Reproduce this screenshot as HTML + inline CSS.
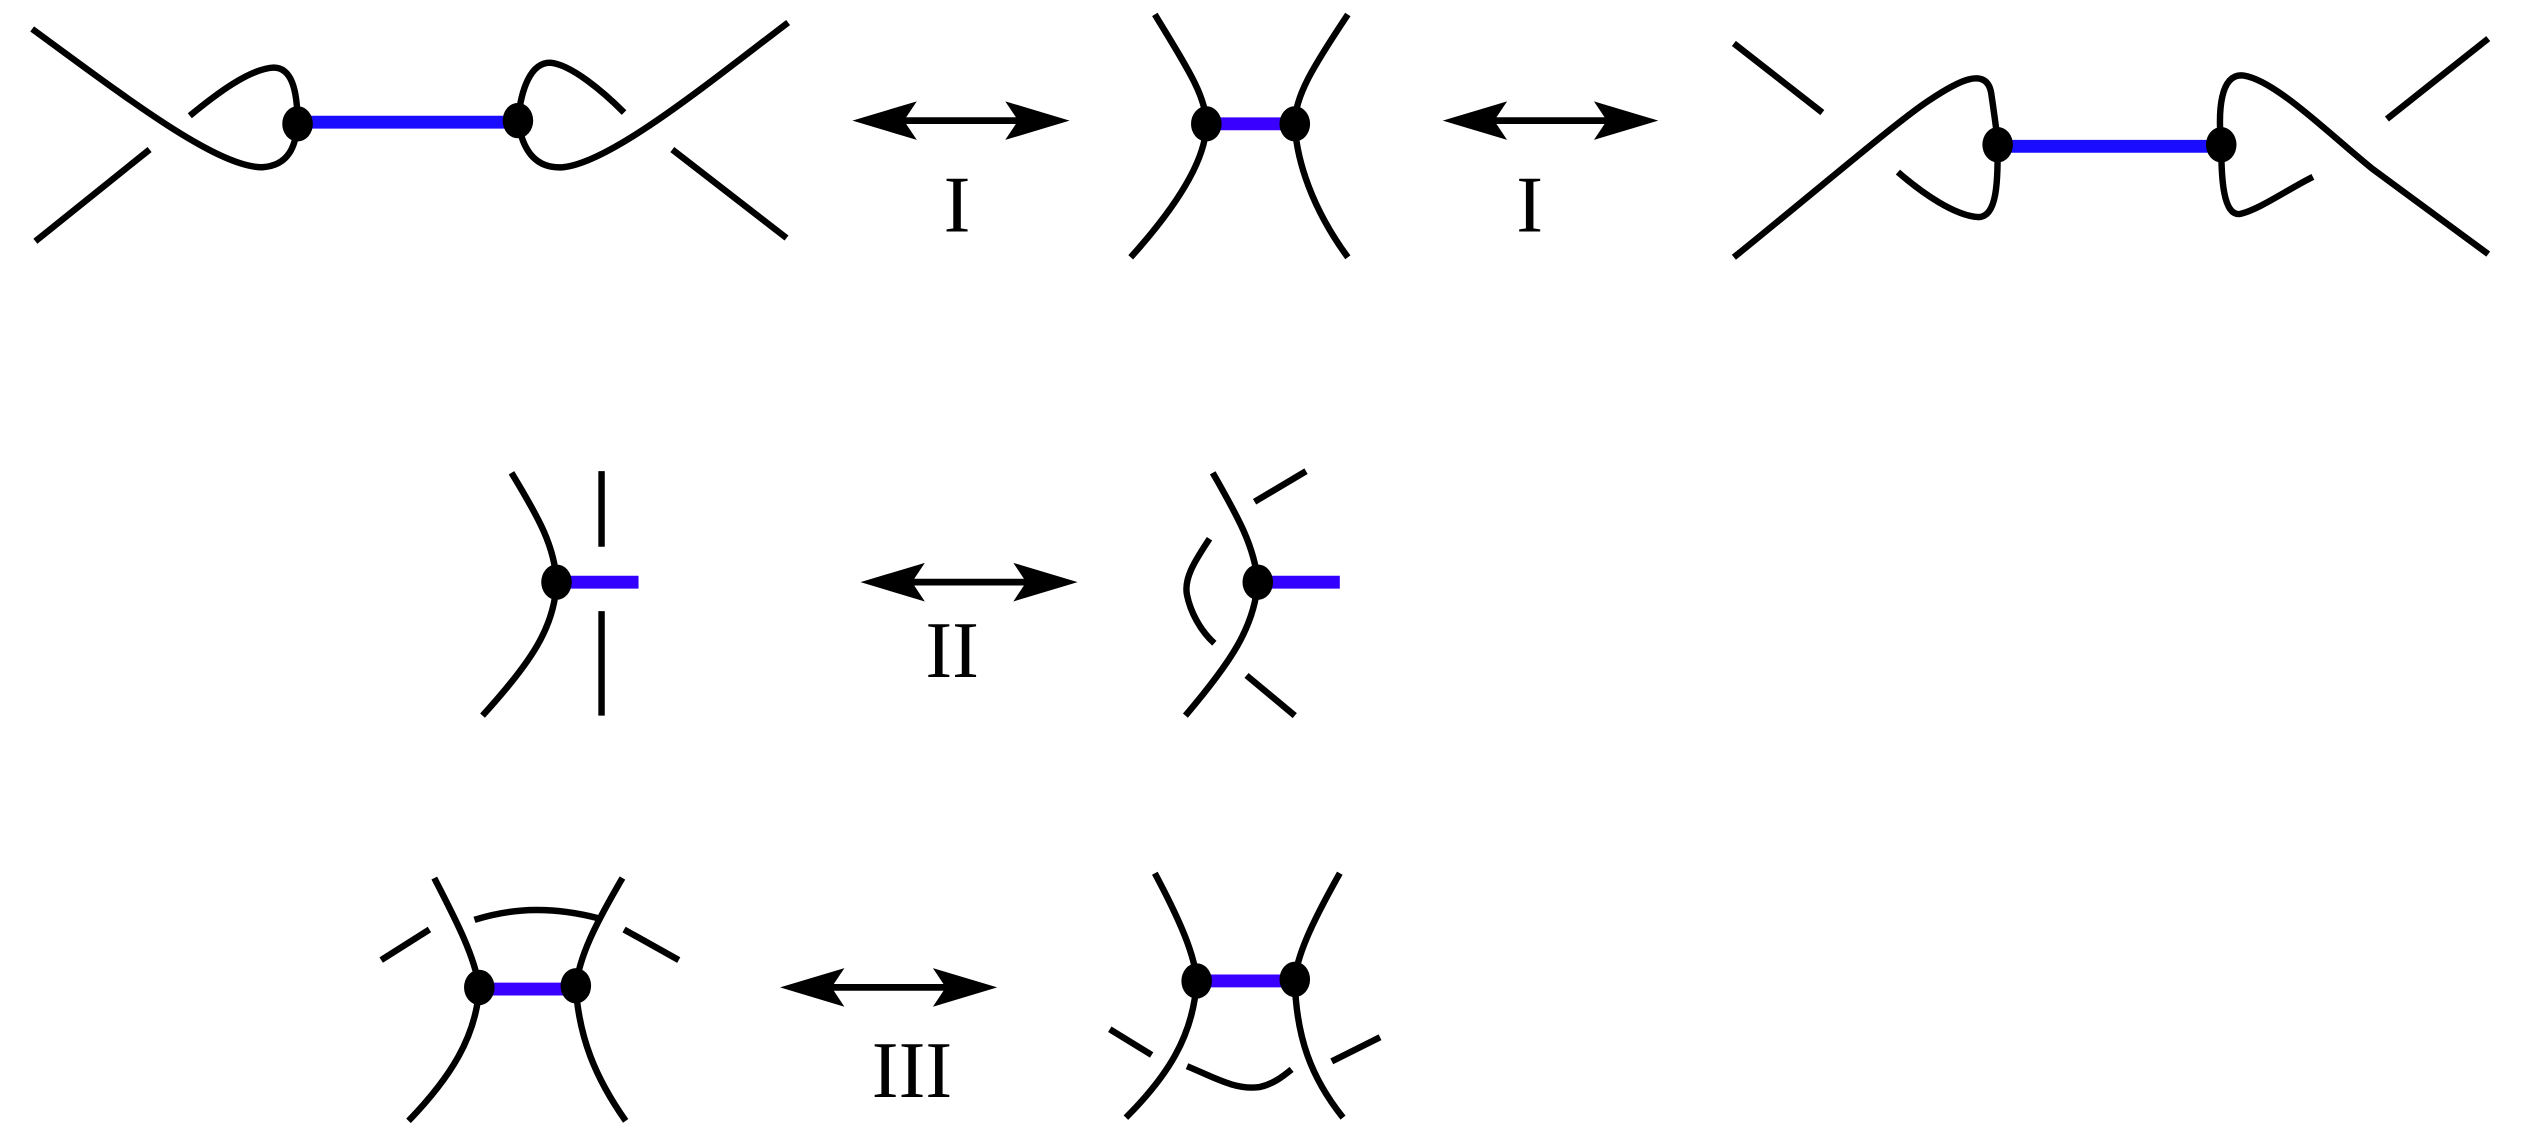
<!DOCTYPE html>
<html><head><meta charset="utf-8"><style>html,body{margin:0;padding:0;background:#fff;}svg{display:block;}</style></head>
<body>
<svg width="2522" height="1145" viewBox="0 0 1568 712" preserveAspectRatio="none" xmlns="http://www.w3.org/2000/svg">
<defs>
<g id="ah"><polygon points="0,0 40,-12 32,0 40,12" fill="#000"/></g>
</defs>
<g fill="none" stroke="#000" stroke-width="4">
<path d="M20,18 C80,62 135,104 163,104 C180,103 184,90 185,77"/>
<path d="M185,77 C185,55 181,42 170,42 C155,43 135,58 118,72"/>
<line x1="22" y1="150" x2="93" y2="93"/>
<path d="M322,75 C324,55 330,39 342,39 C355,40 375,57 388,70"/>
<path d="M322,75 C325,95 334,105 350,104 C380,101 440,52 490,14"/>
<line x1="418" y1="93" x2="489" y2="148"/>
<path d="M718,9 C738,42 750,60 750,77 C750,100 730,130 703,160"/>
<path d="M838,9 C816,42 805,60 805,77 C806,100 816,130 838,160"/>
<line x1="1078" y1="27" x2="1133" y2="70"/>
<path d="M1078,160 C1130,118 1180,75 1200,62 C1215,52 1235,40 1238,58 C1240,72 1242,85 1242,90"/>
<path d="M1242,90 C1242,112 1242,135 1230,135 C1215,134 1195,120 1180,107"/>
<path d="M1381,90 C1379,70 1380,45 1395,47 C1415,50 1450,85 1475,105 L1547,158"/>
<path d="M1381,90 C1381,110 1382,135 1393,133 C1405,130 1422,118 1438,110"/>
<line x1="1484" y1="74" x2="1547" y2="24"/>
<path d="M318,294 C335,322 345,340 346,362 C345,390 330,412 300,445"/>
<line x1="374" y1="293" x2="374" y2="340"/>
<line x1="374" y1="380" x2="374" y2="445"/>
<path d="M754,294 C770,322 780,340 782,362 C780,390 765,412 737,445"/>
<line x1="780" y1="312" x2="812" y2="293"/>
<path d="M752,335 C742,350 736,360 738,370 C740,380 746,392 755,400"/>
<line x1="775" y1="420" x2="805" y2="445"/>
<path d="M270,546 C285,575 295,595 298,614 C296,645 280,670 254,697"/>
<path d="M387,546 C370,575 360,595 358,614 C360,645 370,670 389,697"/>
<path d="M295,572 C320,564 345,564 372,571"/>
<line x1="237" y1="597" x2="267" y2="578"/>
<line x1="388" y1="578" x2="422" y2="597"/>
<path d="M718,543 C735,575 743,595 744,610 C742,645 725,670 700,695"/>
<path d="M833,543 C815,575 806,595 805,610 C806,645 815,670 835,695"/>
<line x1="690" y1="640" x2="716" y2="656"/>
<line x1="828" y1="660" x2="858" y2="645"/>
<path d="M738,663 C755,670 768,678 783,676 C792,674 798,669 803,665"/>
</g>
<g stroke-width="8" fill="none">
<line x1="185" y1="76" x2="322" y2="76" stroke="#1a0dff"/>
<line x1="750" y1="77" x2="805" y2="77" stroke="#3a00ff"/>
<line x1="1242" y1="91" x2="1381" y2="91" stroke="#1a0dff"/>
<line x1="346" y1="362" x2="397" y2="362" stroke="#3300ff"/>
<line x1="782" y1="362" x2="833" y2="362" stroke="#3300ff"/>
<line x1="298" y1="615" x2="358" y2="615" stroke="#3a00ff"/>
<line x1="744" y1="610" x2="805" y2="610" stroke="#3a00ff"/>
</g>
<g fill="#000">
<ellipse cx="185" cy="77" rx="9.5" ry="11"/>
<ellipse cx="322" cy="75" rx="9.5" ry="11"/>
<ellipse cx="750" cy="77" rx="9.5" ry="11"/>
<ellipse cx="805" cy="77" rx="9.5" ry="11"/>
<ellipse cx="1242" cy="90" rx="9.5" ry="11"/>
<ellipse cx="1381" cy="90" rx="9.5" ry="11"/>
<ellipse cx="346" cy="362" rx="9.5" ry="11"/>
<ellipse cx="782" cy="362" rx="9.5" ry="11"/>
<ellipse cx="298" cy="614" rx="9.5" ry="11"/>
<ellipse cx="358" cy="613" rx="9.5" ry="11"/>
<ellipse cx="744" cy="610" rx="9.5" ry="11"/>
<ellipse cx="805" cy="609" rx="9.5" ry="11"/>
</g>
<g stroke="#000" stroke-width="4.2">
<line x1="555" y1="75" x2="640" y2="75"/>
<line x1="922" y1="75" x2="1005" y2="75"/>
<line x1="560" y1="362" x2="645" y2="362"/>
<line x1="510" y1="614" x2="595" y2="614"/>
</g>
<use href="#ah" transform="translate(530,75)"/>
<use href="#ah" transform="translate(665,75) scale(-1,1)"/>
<use href="#ah" transform="translate(897,75)"/>
<use href="#ah" transform="translate(1031,75) scale(-1,1)"/>
<use href="#ah" transform="translate(535,362)"/>
<use href="#ah" transform="translate(670,362) scale(-1,1)"/>
<use href="#ah" transform="translate(485,614)"/>
<use href="#ah" transform="translate(620,614) scale(-1,1)"/>
<g font-family="Liberation Serif, serif" font-size="50" text-anchor="middle" fill="#000">
<text x="595" y="144">I</text>
<text x="951" y="144">I</text>
<text x="592" y="421">II</text>
<text x="567" y="682">III</text>
</g>
</svg>
</body></html>
